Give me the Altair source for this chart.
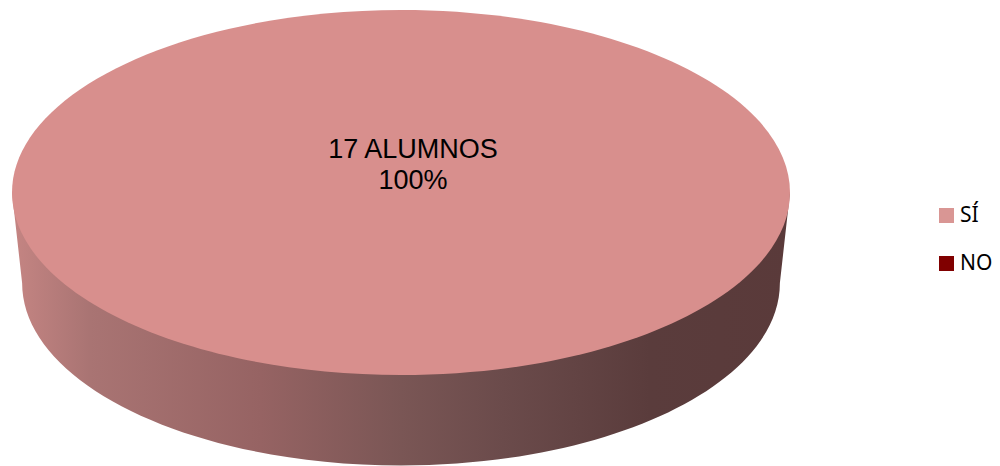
import altair as alt
import pandas as pd

categories = ["SÍ", "NO"]
students = [17, 0]
shares = ["100%", "0%"]
swatch_colors = ["#d99694", "#800000"]
top_color = "#d88f8d"
side_stops = [(0.0, "#c58583"), (0.1, "#a97473"), (0.32, "#966363"),
              (0.5, "#7a5655"), (0.63, "#6b4b4b"), (0.82, "#5a3c3c"), (1.0, "#5a3a3a")]

K = 0.5523
RY = 0.469
TOP = (f"M-1,0 C-1,{-RY*K:.4f} {-K:.4f},{-RY} 0,{-RY} C{K:.4f},{-RY} 1,{-RY*K:.4f} 1,0 "
       f"C1,{RY*K:.4f} {K:.4f},{RY} 0,{RY} C{-K:.4f},{RY} -1,{RY*K:.4f} -1,0 Z")
BX, BY, BRY = 0.974, 0.2326, 0.469
SIDE = (f"M-1,0 L{-BX},{BY} C{-BX},{BY+BRY*K:.4f} {-BX*K:.4f},{BY+BRY:.4f} 0,{BY+BRY:.4f} "
        f"C{BX*K:.4f},{BY+BRY:.4f} {BX},{BY+BRY*K:.4f} {BX},{BY} L1,0 Z")

df = pd.DataFrame({"categoria": categories, "alumnos": students, "pct": shares})
df["etiqueta"] = [f"{a} ALUMNOS\n{p}" for a, p in zip(students, shares)]
shown = df[df["alumnos"] > 0]

cx, cy = alt.value(393), alt.value(184.5)
size = alt.Size("alumnos:Q", legend=None,
                scale=alt.Scale(domain=[0, 17], range=[0, 605284]))

side = alt.Chart(shown).mark_point(
    shape=SIDE, filled=True, opacity=1, strokeWidth=0,
    fill=alt.LinearGradient(gradient="linear", x1=0, x2=1, y1=0, y2=0,
        stops=[alt.GradientStop(offset=o, color=c) for o, c in side_stops]),
).encode(x=cx, y=cy, size=size)

top = alt.Chart(shown).mark_point(
    shape=TOP, filled=True, opacity=1, strokeWidth=0, fill=top_color,
).encode(x=cx, y=cy, size=size)

legend = alt.Chart(df).mark_square(opacity=0, size=0).encode(
    x=cx, y=cy,
    color=alt.Color("categoria:N", sort=categories,
        scale=alt.Scale(domain=categories, range=swatch_colors),
        legend=alt.Legend(title=None, orient="none", legendX=928, legendY=197,
            symbolType="square", symbolSize=225, symbolOpacity=1, symbolStrokeWidth=0,
            labelFont="Noto Sans", labelFontSize=21, labelColor="#000000",
            labelOffset=3, rowPadding=26, symbolOffset=0, padding=0)),
)

text = alt.Chart(shown).mark_text(
    font="Liberation Sans", fontSize=27, color="#000000", align="center",
    baseline="alphabetic", lineBreak="\n", lineHeight=31,
).encode(x=alt.value(405), y=alt.value(150), text="etiqueta:N")

chart = (side + top + legend + text).properties(
    width=984, height=458, padding=0, background="#ffffff",
    autosize=alt.AutoSizeParams(type="none"),
).configure_view(stroke=None)

chart.save("out.html", embed_options={"renderer": "svg", "actions": False})
